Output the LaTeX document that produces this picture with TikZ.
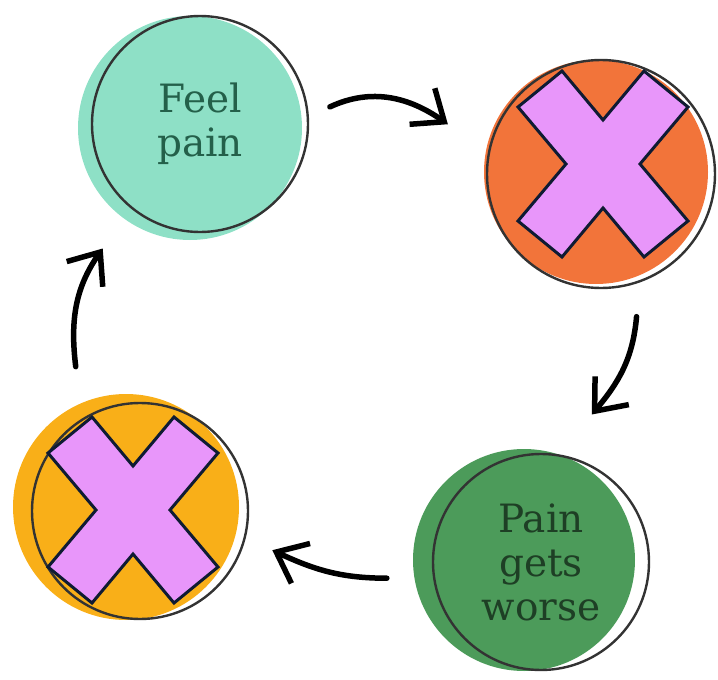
\documentclass[tikz,border=0pt]{standalone}
\usepackage{fontspec}
\setmainfont{DejaVu Serif}
\usetikzlibrary{arrows.meta,backgrounds}
\definecolor{mint}{RGB}{142,224,198}
\definecolor{flame}{RGB}{242,116,58}
\definecolor{leaf}{RGB}{76,155,90}
\definecolor{amberc}{RGB}{249,175,24}
\definecolor{mintink}{RGB}{36,96,74}
\definecolor{leafink}{RGB}{30,63,37}
\definecolor{crossfill}{RGB}{232,150,250}
\definecolor{crossedge}{RGB}{15,27,51}
\tikzset{
  stage/.style={circle,draw=black!80,line width=2.4pt,minimum size=#1,inner sep=0pt,align=center,
    font=\fontsize{39}{44}\selectfont},
  flow/.style={line width=5.5pt,line cap=round,-{Straight Barb[length=27pt,width=44pt]}},
  cross/.style={fill=crossfill,draw=crossedge,line width=3pt,line join=miter}
}
\newcommand{\redact}[2]{\draw[cross,shift={(#1,#2)}] (-85,-57) -- (-41,-93) -- (0,-44) -- (41,-93) -- (85,-57) -- (37,0) -- (85,57) -- (41,93) -- (0,44) -- (-41,93) -- (-85,57) -- (-37,0) -- cycle;}
\begin{document}
\begin{tikzpicture}[x=1pt,y=-1pt]
  \useasboundingbox (0,0) rectangle (718,680);
  % the four stages
  \node[stage=216pt,text=mintink] (feel) at (200,124) {Feel\\pain};
  \node[stage=228pt] (hot) at (601,174) {};
  \node[stage=216pt,text=leafink] (worse) at (541,562) {Pain\\gets\\worse};
  \node[stage=216pt] (amber) at (140,511) {};
  \begin{scope}[on background layer]
    \fill[mint] ([shift={(-10pt,-4pt)}]feel.center) circle (112pt);
    \fill[flame] ([shift={(-5pt,2pt)}]hot.center) circle (112pt);
    \fill[leaf] ([shift={(-17pt,2pt)}]worse.center) circle (111pt);
    \fill[amberc] ([shift={(-14pt,4pt)}]amber.center) circle (113pt);
  \end{scope}
  % arrows round the loop
  \draw[flow] ([shift={(7.5:131pt)}]feel.center) to[out=25,in=145] ([shift={(162:161pt)}]hot.center);
  \draw[flow] ([shift={(-76:147pt)}]hot.center) to[out=-95,in=50] ([shift={(71:156pt)}]worse.center);
  \draw[flow] ([shift={(186:155pt)}]worse.center) to[out=180,in=-25] ([shift={(-16.5:138pt)}]amber.center);
  \draw[flow] ([shift={(114:158pt)}]amber.center) to[out=97,in=-125] ([shift={(232:158pt)}]feel.center);
  % crosses
  \redact{603}{164}
  \redact{133}{510}
\end{tikzpicture}
\end{document}
